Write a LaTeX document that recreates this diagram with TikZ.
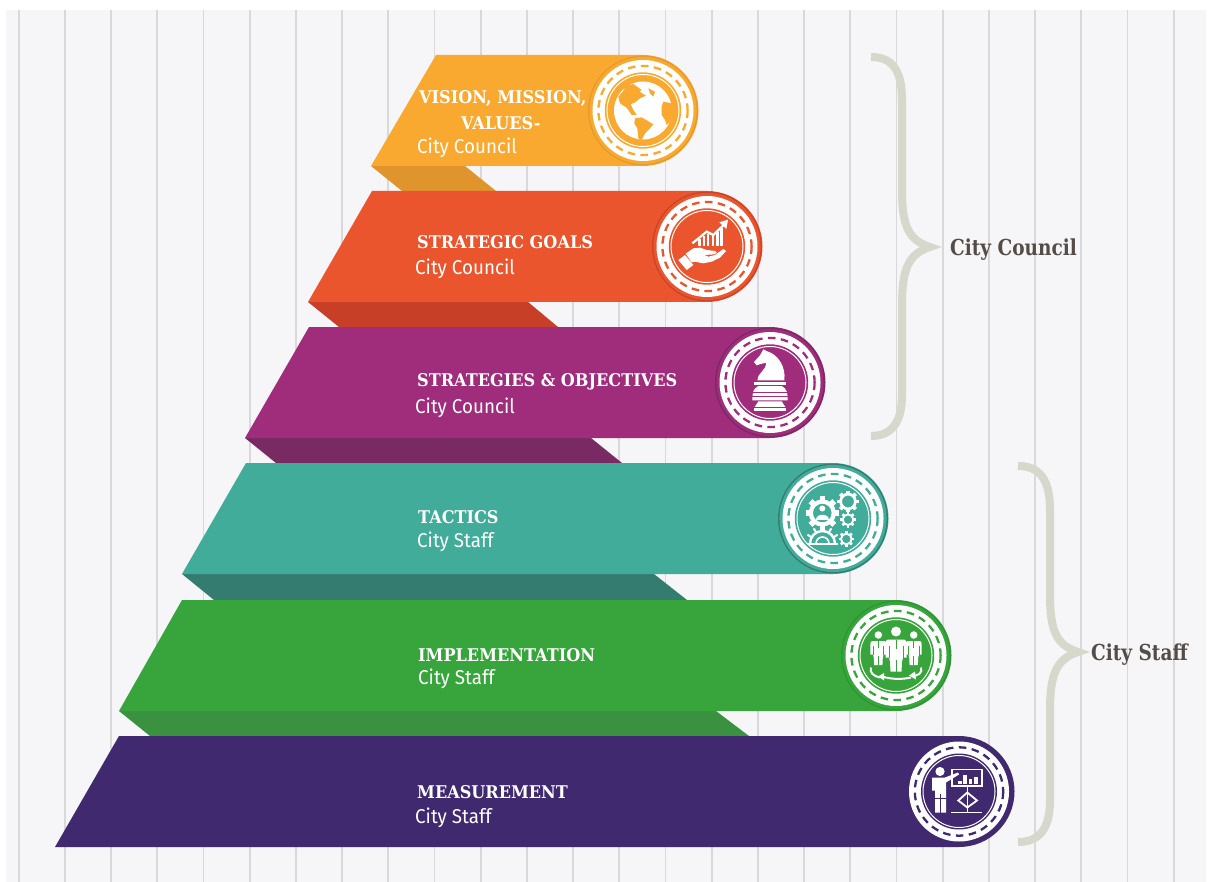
\documentclass[tikz,border=0pt]{standalone}
\usepackage{fontspec}
\setmainfont{Liberation Sans}
\newfontfamily\headfont[FakeStretch=0.92]{DejaVu Serif}
\newfontfamily\subfont[FakeStretch=0.94]{Fira Sans}
\newfontfamily\bracefont[FakeStretch=0.84]{DejaVu Serif}
\definecolor{bgc}{HTML}{F6F5F7}
\definecolor{stripe}{HTML}{D9D8DA}
\definecolor{bracec}{HTML}{D7D8CC}
\definecolor{bracetext}{HTML}{544C47}
\definecolor{ca}{HTML}{F9A92F}\definecolor{cad}{HTML}{E0952C}\definecolor{cae}{HTML}{E59A2C}
\definecolor{cb}{HTML}{EB552D}\definecolor{cbd}{HTML}{C83F28}\definecolor{cbe}{HTML}{C9442A}
\definecolor{cc}{HTML}{A02C7C}\definecolor{ccd}{HTML}{7A2A62}\definecolor{cce}{HTML}{7A2A62}
\definecolor{cd}{HTML}{41AC99}\definecolor{cdd}{HTML}{347B70}\definecolor{cde}{HTML}{347B70}
\definecolor{ce}{HTML}{37A53C}\definecolor{ced}{HTML}{3A9140}\definecolor{cee}{HTML}{2F9436}
\definecolor{cf}{HTML}{40296F}\definecolor{cfe}{HTML}{40296F}
\tikzset{
  band/.style={draw=none},
  head/.style={text=white,font=\headfont\bfseries\fontsize{17.5}{20}\selectfont,anchor=base west,inner sep=0pt},
  sub/.style={text=white,font=\subfont\fontsize{20}{22}\selectfont,anchor=base west,inner sep=0pt},
  bracetxt/.style={text=bracetext,font=\bracefont\bfseries\fontsize{22}{24}\selectfont,anchor=base west,inner sep=0pt},
  iconline/.style={draw=white,line width=1.6pt,fill=none},
  stripeline/.style={draw=stripe,line width=1.8pt}
}
\newcommand{\medal}[3]{%
  \fill[#3] (#1) circle (55);
  \fill[#2] (#1) circle (53.6);
  \fill[white] (#1) circle (50.5);
  \draw[#2,line width=2.3pt,dash pattern=on 7.6pt off 5.4pt] (#1) circle (44.6);
  \fill[#2] (#1) circle (38.2);
  \draw[white,line width=1pt] (#1) circle (36);
}
\newcommand{\gearicon}[3]{%
  \foreach \a in {0,45,...,315}{\fill[white,rotate around={\a:(#1,#2)}] ({#1-#3*0.2},{#2-#3*1.2}) rectangle ({#1+#3*0.2},{#2-#3*0.8});}
  \draw[white,line width={#3*0.3pt}] (#1,#2) circle ({#3*0.82});
}
\newcommand{\person}[3]{%
  \begin{scope}[shift={(#1,#2)},scale=#3]
    \fill[white] (0,-26) circle (5);
    \fill[white] (-8,-18) -- (8,-18) .. controls (10,-18) and (10.5,-16) .. (10.5,-14) -- (10.5,0) -- (7,0) -- (6,4) -- (5.5,14) -- (-5.5,14) -- (-6,4) -- (-7,0) -- (-10.5,0) -- (-10.5,-14) .. controls (-10.5,-16) and (-10,-18) .. (-8,-18) -- cycle;
    \draw[ce,line width=0.7pt] (0,-18) -- (0,-9);
    \draw[ce,line width=0.7pt] (0,2) -- (0,14);
    \draw[ce,line width=0.6pt] (-7,-12) -- (-7,0);
    \draw[ce,line width=0.6pt] (7,-12) -- (7,0);
  \end{scope}}
\begin{document}
\begin{tikzpicture}[x=1pt,y=-1pt]
\useasboundingbox (0,0) rectangle (1209,882);
\fill[white] (0,0) rectangle (1209,882);
\fill[bgc] (6,10) rectangle (1206,882);
\foreach \k in {0,...,25}{
  \draw[stripeline] ({18.7+46.2*\k},10) -- ({18.7+46.2*\k},882);
}
% shadows
\fill[cad] (371,166) -- (465,166) -- (496,191) -- (402,191) -- cycle;
\fill[cbd] (308,302) -- (528,302) -- (558,327) -- (339,327) -- cycle;
\fill[ccd] (245,438) -- (591,438) -- (622,463) -- (276,463) -- cycle;
\fill[cdd] (182,574) -- (654,574) -- (687,600) -- (214,600) -- cycle;
\fill[ced] (119,711) -- (716,711) -- (749,736) -- (150,736) -- cycle;
\coordinate (ma) at (643,110.5);
\coordinate (mb) at (707,246.5);
\coordinate (mc) at (770,382.5);
\coordinate (md) at (833,518.5);
\coordinate (me) at (896,655.5);
\coordinate (mf) at (959,791.5);
% bands
\fill[ca,band] (436,55) -- (643,55) arc (-90:90:55.5) -- (371,166) -- cycle;
\fill[cb,band] (372,191) -- (707,191) arc (-90:90:55.5) -- (308,302) -- cycle;
\fill[cc,band] (309,327) -- (770,327) arc (-90:90:55.5) -- (245,438) -- cycle;
\fill[cd,band] (246,463) -- (833,463) arc (-90:90:55.5) -- (182,574) -- cycle;
\fill[ce,band] (182,600) -- (896,600) arc (-90:90:55.5) -- (119,711) -- cycle;
\fill[cf,band] (119,736) -- (959,736) arc (-90:90:55.5) -- (55,847) -- cycle;
% medals
\medal{ma}{ca}{cae}
\medal{mb}{cb}{cbe}
\medal{mc}{cc}{cce}
\medal{md}{cd}{cde}
\medal{me}{ce}{cee}
\fill[white] (mf) circle (50);
\draw[cf,line width=2.3pt,dash pattern=on 7.6pt off 5.4pt] (mf) circle (44.2);
\fill[cf] (mf) circle (38);
\draw[white,line width=1pt] (mf) circle (36);
% globe
\begin{scope}[shift={(ma)}]
  \fill[white] (0,0) circle (29);
  \begin{scope}[x=0.3333pt,y=-0.3333pt,shift={(-129,-136.5)}]
    \fill[ca] (78,62) -- (100,57) -- (125,75) -- (118,80) -- (138,92) -- (120,100) -- (105,112) -- (92,118) -- (100,135) -- (110,150) -- (95,150) -- (80,128) -- (60,115) -- (55,95) -- (68,80) -- cycle;
    \fill[ca] (105,160) -- (125,157) -- (160,178) -- (150,190) -- (135,205) -- (125,225) -- (115,220) -- (112,190) -- (103,175) -- cycle;
    \fill[ca] (190,110) -- (215,115) -- (220,140) -- (210,170) -- (200,180) -- (195,165) -- (185,150) -- (185,125) -- cycle;
    \fill[ca] (145,70) -- (165,80) -- (160,95) -- (150,85) -- cycle;
  \end{scope}
\end{scope}
% hand with chart
\begin{scope}[shift={(mb)},x=0.3333pt,y=-0.3333pt,shift={(-126,-124.5)}]
  \fill[white] (40,165) -- (60,150) -- (85,180) -- (65,195) -- cycle;
  \fill[white] (62,146) -- (85,130) -- (105,128) -- (125,135) -- (150,138) -- (155,143) -- (148,148) -- (118,150) -- (130,155) -- (150,150) -- (175,132) -- (183,138) -- (165,158) -- (140,170) -- (115,175) -- (90,170) -- (80,172) -- cycle;
  \fill[white] (100,122) rectangle (108,103);
  \fill[white] (113,122) rectangle (120,92);
  \fill[white] (125,122) rectangle (133,86);
  \fill[white] (140,122) rectangle (148,88);
  \fill[white] (153,122) rectangle (161,80);
  \fill[white] (166,122) rectangle (174,70);
  \draw[white,line width=2.2pt] (82,115) -- (125,80) -- (145,90) -- (178,58);
  \fill[white] (189,44) -- (184,72) -- (163,52) -- cycle;
\end{scope}
% knight
\begin{scope}[shift={(mc)},x=0.3333pt,y=-0.3333pt,shift={(-120,-121.5)}]
  \fill[white] (100,22) -- (112,28) .. controls (145,38) and (168,75) .. (163,115) -- (82,115) .. controls (80,95) and (110,85) .. (108,62) -- (92,66) -- (80,70) -- (72,60) -- (90,40) -- cycle;
  \fill[white] (72,120) rectangle (168,128);
  \fill[white] (85,132) -- (155,132) .. controls (170,140) and (173,150) .. (173,175) -- (67,175) .. controls (67,150) and (70,140) .. (85,132) -- cycle;
  \fill[cc] (68,150) rectangle (172,153);
  \fill[cc] (67,162) rectangle (173,165);
  \fill[white] (85,178) -- (155,178) -- (166,195) -- (74,195) -- cycle;
  \fill[white] (72,199) rectangle (168,207);
\end{scope}
% gears
\begin{scope}[shift={(md)}]
  \gearicon{-10.7}{-5.5}{14}
  \gearicon{15}{-17}{9}
  \gearicon{15}{1.2}{6.5}
  \gearicon{13.3}{20.5}{6.5}
  \fill[white] (-10.7,-10) circle (3);
  \fill[white] (-17,1) .. controls (-17,-6) and (-4.5,-6) .. (-4.5,1) -- cycle;
  \fill[white] (-12,10) rectangle (-9.5,13);
  \draw[white,line width=2.4pt] (-23,25) arc (180:360:12.5);
  \draw[white,line width=1.6pt] (-17,25) arc (180:360:6.5);
  \foreach \a in {-60,-30,0,30,60}{\fill[white,rotate around={\a:(-10.5,25)}] (-11.5,7.5) rectangle (-9.5,12);}
  \fill[white] (-25,24.5) rectangle (5,26);
\end{scope}
% team
\begin{scope}[shift={(me)}]
  \person{-17.7}{-1}{0.75}
  \person{17.7}{-1}{0.75}
  \person{0}{2}{1}
  \draw[white,line width=2pt] (-25,12) .. controls (-27,17) and (-22,21) .. (-16,22);
  \draw[white,line width=2pt] (25,12) .. controls (27,17) and (22,21) .. (16,20);
  \draw[white,line width=2pt] (-14,21) .. controls (-4,24) and (6,24) .. (15,22);
  \fill[white] (-18,21) -- (-12,17.5) -- (-12,25) -- cycle;
  \fill[white] (13,20) -- (19,16) -- (20,24) -- cycle;
\end{scope}
% presenter
\begin{scope}[shift={(mf)}]
  \fill[white] (-19,-20) circle (4.6);
  \fill[white] (-27,-14) -- (-14,-14) -- (-1,-19) -- (0,-17) -- (-13,-9) -- (-13,21) -- (-24,21) -- (-24,-1) -- (-27,-1) -- cycle;
  \draw[cf,line width=0.7pt] (-18.5,2) -- (-18.5,21);
  \draw[cf,line width=0.7pt] (-24,7) -- (-13,7);
  \draw[iconline,line width=1.3pt] (-7,-22) rectangle (23,-5.5);
  \fill[white] (-1,-11) rectangle (2.5,-7.5);
  \fill[white] (4,-17) rectangle (7.5,-7.5);
  \fill[white] (9.5,-13) rectangle (13,-7.5);
  \fill[white] (15,-14.5) rectangle (18.5,-7.5);
  \draw[iconline,line width=1.3pt] (8.3,-5.5) -- (8.3,21);
  \draw[iconline,line width=1.3pt] (-8,21) -- (23,21);
  \draw[iconline,line width=1.8pt] (-0.7,9) -- (8.3,1) -- (18,9) -- (8.3,16) -- cycle;
\end{scope}
% braces
\coordinate (ba) at (871,57);
\coordinate (bb) at (930,247);
\coordinate (bc) at (871,436);
\draw[bracec,line width=8pt,line cap=butt] (ba) .. controls (892,57) and (902,70) .. (902,100)
  -- (902,190) .. controls (902,225) and (908,240) .. (bb)
  .. controls (908,254) and (902,270) .. (902,305)
  -- (902,395) .. controls (902,422) and (892,436) .. (bc);
\coordinate (bd) at (1018,466);
\coordinate (be) at (1078,652);
\coordinate (bf) at (1018,842);
\draw[bracec,line width=8pt,line cap=butt] (bd) .. controls (1040,466) and (1050,480) .. (1050,510)
  -- (1050,595) .. controls (1050,630) and (1056,645) .. (be)
  .. controls (1056,659) and (1050,675) .. (1050,710)
  -- (1050,800) .. controls (1050,828) and (1040,842) .. (bf);
% text
\node[head] (t1a) at (419,104) {VISION, MISSION,};
\node[head] (t1b) at (461,129.5) {VALUES-};
\node[sub] (t1c) at (417,153.5) {City Council};
\node[head] (t2a) at (417,249) {STRATEGIC GOALS};
\node[sub] (t2b) at (415,274.5) {City Council};
\node[head] (t3a) at (417,386.5) {STRATEGIES \& OBJECTIVES};
\node[sub] (t3b) at (415,413.5) {City Council};
\node[head] (t4a) at (418,523) {TACTICS};
\node[sub] (t4b) at (417,547) {City Staff};
\node[head] (t5a) at (418,661) {IMPLEMENTATION};
\node[sub] (t5b) at (418,684) {City Staff};
\node[head] (t6a) at (417,798) {MEASUREMENT};
\node[sub] (t6b) at (415,823) {City Staff};
\node[bracetxt] (l1) at (950,256) {City Council};
\node[bracetxt] (l2) at (1091,660) {City Staff};
\end{tikzpicture}
\end{document}
